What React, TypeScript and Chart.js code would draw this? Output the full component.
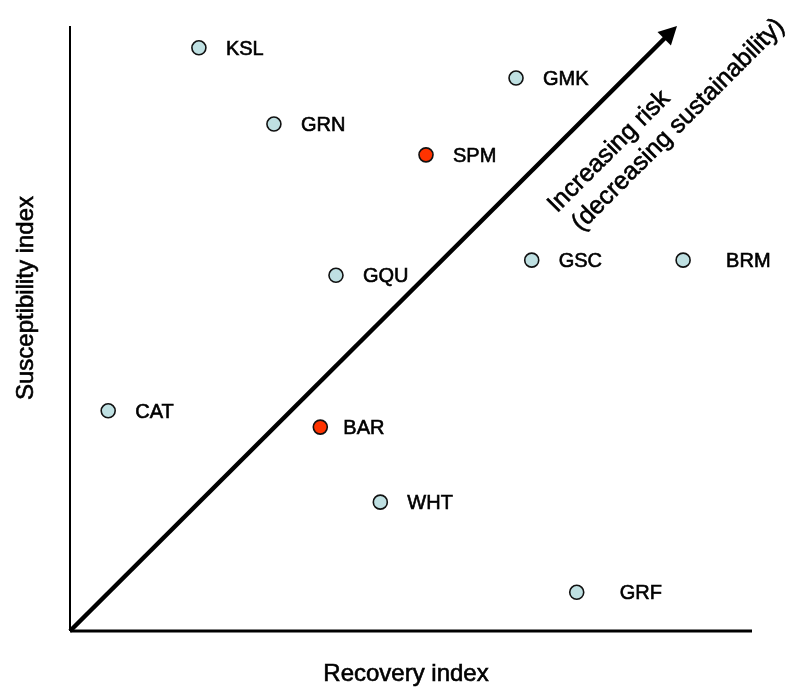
import React, { useEffect, useRef } from "react";
import { Chart, registerables } from "chart.js";

Chart.register(...registerables);

const sites = ["KSL", "GMK", "GRN", "SPM", "GSC", "BRM", "GQU", "CAT", "BAR", "WHT", "GRF"];
const recovery = [18.9, 65.4, 29.9, 52.2, 67.7, 89.9, 39.0, 5.6, 36.7, 45.5, 74.3];
const susceptibility = [96.4, 91.4, 83.8, 78.7, 61.3, 61.3, 58.8, 36.4, 33.7, 21.3, 6.4];
const highlighted = ["SPM", "BAR"];

const xTitle = "Recovery index";
const yTitle = "Susceptibility index";
const arrowLines = ["Increasing risk", "(decreasing sustainability)"];

const FONT = '"Liberation Sans", Arial, Helvetica, sans-serif';
const labelGap: Record<string, number> = { BRM: 43, GRF: 43, BAR: 23 };

function heavyText(ctx: CanvasRenderingContext2D, s: string, px: number, py: number, w = 0.6) {
  ctx.fillText(s, px, py);
  ctx.lineWidth = w;
  ctx.strokeStyle = "#000";
  ctx.strokeText(s, px, py);
}

const overlay = {
  id: "overlay",
  beforeDatasetsDraw(chart: any) {
    const { ctx, chartArea, scales } = chart;
    const x = scales.x;
    const y = scales.y;
    ctx.save();
    ctx.strokeStyle = "#000";
    ctx.lineCap = "butt";
    // axes
    ctx.lineWidth = 2;
    ctx.beginPath();
    ctx.moveTo(chartArea.left, chartArea.bottom);
    ctx.lineTo(chartArea.left, chartArea.top);
    ctx.stroke();
    ctx.lineWidth = 3;
    ctx.beginPath();
    ctx.moveTo(chartArea.left, chartArea.bottom);
    ctx.lineTo(chartArea.right, chartArea.bottom);
    ctx.stroke();

    // arrow
    const x0 = x.getPixelForValue(0);
    const y0 = y.getPixelForValue(0);
    const x1 = x.getPixelForValue(89.0);
    const y1 = y.getPixelForValue(100);
    const ang = Math.atan2(y1 - y0, x1 - x0);
    const headLen = 18;
    const headHalf = 9.5;
    const bx = x1 - headLen * Math.cos(ang);
    const by = y1 - headLen * Math.sin(ang);
    ctx.lineWidth = 4.5;
    ctx.beginPath();
    ctx.moveTo(x0, y0);
    ctx.lineTo(bx + 1 * Math.cos(ang), by + 1 * Math.sin(ang));
    ctx.stroke();
    ctx.fillStyle = "#000";
    ctx.beginPath();
    ctx.moveTo(x1, y1);
    ctx.lineTo(bx + headHalf * Math.sin(ang), by - headHalf * Math.cos(ang));
    ctx.lineTo(bx - headHalf * Math.sin(ang), by + headHalf * Math.cos(ang));
    ctx.closePath();
    ctx.fill();

    // arrow text
    const tx = x.getPixelForValue(71.4);
    const ty = y.getPixelForValue(69.0);
    ctx.translate(tx, ty);
    ctx.rotate(-Math.PI / 4);
    ctx.font = `25px ${FONT}`;
    ctx.textAlign = "left";
    ctx.textBaseline = "alphabetic";
    heavyText(ctx, arrowLines[0], 0, 0);
    heavyText(ctx, arrowLines[1], 4, 30);
    ctx.restore();

    // axis titles
    ctx.save();
    ctx.fillStyle = "#000";
    ctx.font = `24px ${FONT}`;
    ctx.textAlign = "center";
    ctx.textBaseline = "alphabetic";
    heavyText(ctx, xTitle, 406, 681);
    ctx.translate(33, 298);
    ctx.rotate(-Math.PI / 2);
    heavyText(ctx, yTitle, 0, 0);
    ctx.restore();
  },
  afterDatasetsDraw(chart: any) {
    const { ctx } = chart;
    const meta = chart.getDatasetMeta(0);
    ctx.save();
    ctx.fillStyle = "#000";
    ctx.font = `20px ${FONT}`;
    ctx.textAlign = "left";
    ctx.textBaseline = "middle";
    meta.data.forEach((pt: any, i: number) => {
      const name = sites[i];
      const gap = labelGap[name] ?? 27;
      heavyText(ctx, name, pt.x + gap, pt.y + 1.5, 0.6);
    });
    ctx.restore();
  },
};

export default function App() {
  const ref = useRef<HTMLCanvasElement | null>(null);
  useEffect(() => {
    document.body.style.margin = "0";
    const canvas = ref.current;
    if (!canvas) return;
    const chart = new Chart(canvas, {
      type: "scatter",
      data: {
        datasets: [
          {
            label: "Sites",
            data: recovery.map((v, i) => ({ x: v, y: susceptibility[i] })),
            pointRadius: 7,
            pointHoverRadius: 7,
            pointBorderWidth: 1.6,
            pointBorderColor: "#111",
            pointBackgroundColor: sites.map((s) => (highlighted.includes(s) ? "#ff3300" : "#bfe0e2")),
            clip: false as any,
          },
        ],
      },
      options: {
        animation: false,
        responsive: false,
        maintainAspectRatio: false,
        layout: { padding: { left: 70, right: 44, top: 26, bottom: 56 } },
        plugins: { legend: { display: false }, tooltip: { enabled: false } },
        scales: {
          x: { type: "linear", min: 0, max: 100, display: false },
          y: { type: "linear", min: 0, max: 100, display: false },
        },
      },
      plugins: [overlay],
    });
    return () => chart.destroy();
  }, []);
  return (
    <div style={{ width: 796, height: 687 }}>
      <canvas ref={ref} width={796} height={687} style={{ display: "block" }} />
    </div>
  );
}
